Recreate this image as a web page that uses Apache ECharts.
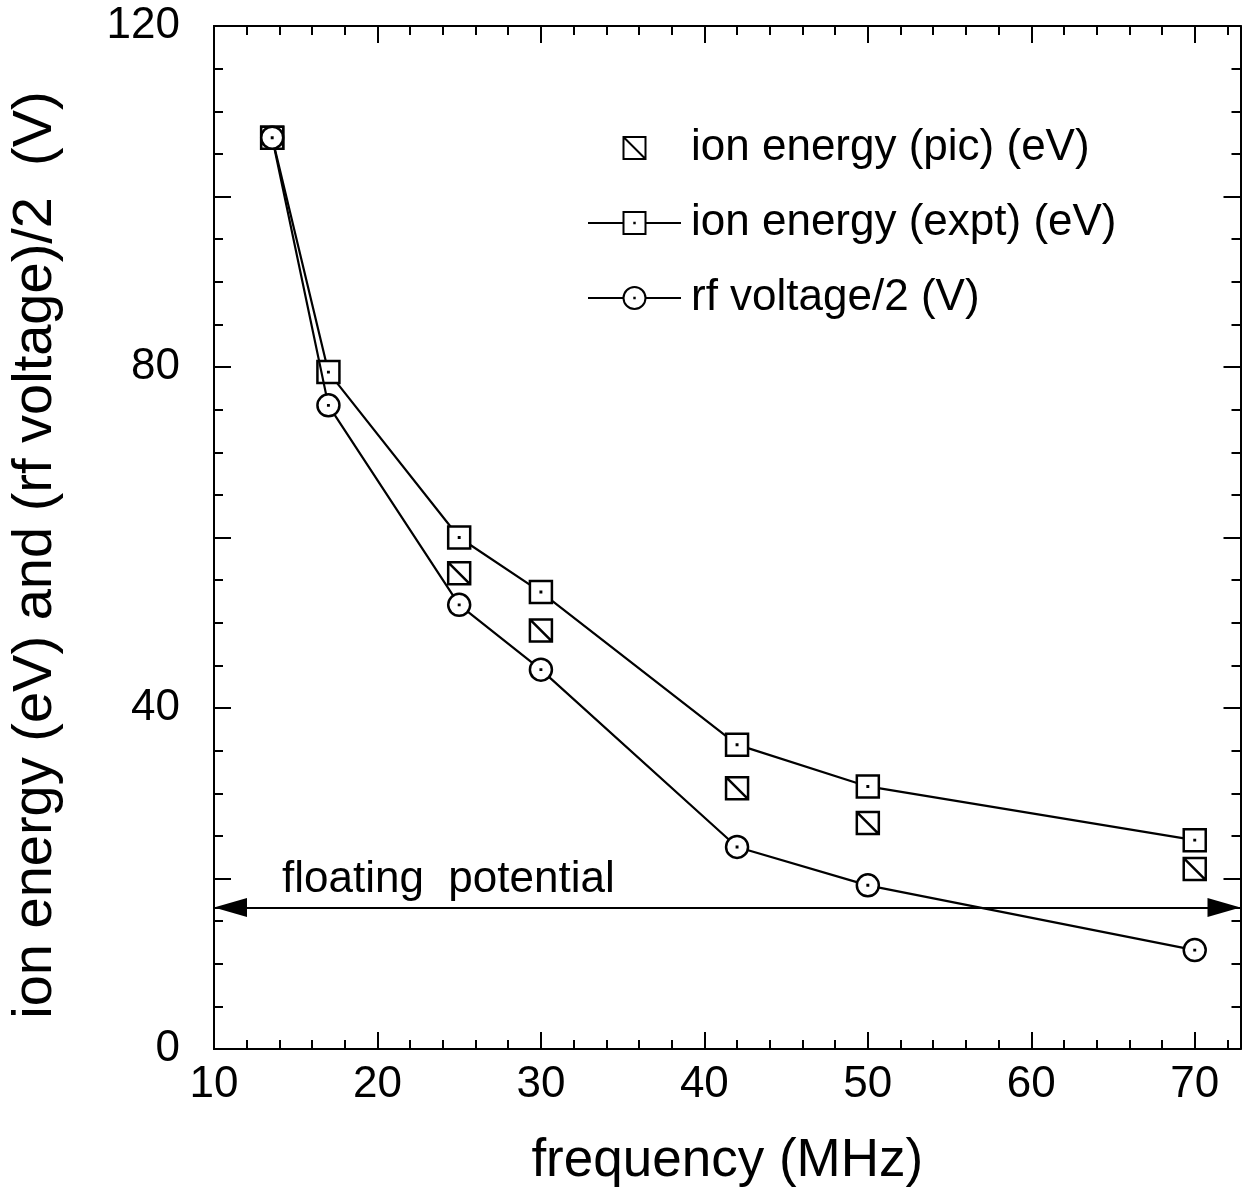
<!DOCTYPE html>
<html><head><meta charset="utf-8">
<script src="https://cdn.jsdelivr.net/npm/echarts@6/dist/echarts.min.js"></script>
<style>html,body{margin:0;padding:0;background:#fff}#c{width:1245px;height:1193px}</style>
</head><body><div id="c"></div>
<script>
// ---- data ----
const frequency      = [13.56, 17, 25, 30, 42, 50, 70];
const ionEnergyExpt  = [106.9, 79.4, 60.0, 53.6, 35.7, 30.8, 24.5];
const rfVoltageHalf  = [106.9, 75.5, 52.1, 44.5, 23.7, 19.2, 11.6];
const picFrequency   = [13.56, 25, 30, 42, 50, 70];
const ionEnergyPic   = [106.9, 55.8, 49.1, 30.6, 26.5, 21.1];
const floatingPotential = 16.6;
const floatingLabel  = 'floating  potential';
const xMajorTicks = [10, 20, 30, 40, 50, 60, 70];
const xMinorTicks = [12, 14, 16, 18, 22, 24, 26, 28, 32, 34, 36, 38, 42, 44, 46, 48, 52, 54, 56, 58, 62, 64, 66, 68, 72];
const yLabelValues = [0, 40, 80, 120];
const seriesNames = ['ion energy (pic) (eV)', 'ion energy (expt) (eV)', 'rf voltage/2 (V)'];
const xName = 'frequency (MHz)';
const yName = 'ion energy (eV) and (rf voltage)/2  (V)';
const xMin = 10, xMax = 72.8, yMin = 0, yMax = 120;

// ---- chart ----
const FONT = "'Liberation Sans', Arial, sans-serif";
const black = '#000';
const sqDot = 'path://M0 0H10V10H0Z M4.9 4.9H5.1V5.1H4.9Z';
const circDot = 'path://M10 5A5 5 0 1 1 0 5A5 5 0 1 1 10 5Z M4.9 4.9H5.1V5.1H4.9Z';
const sqDiag = 'path://M-1.25 -1.25L-1.25 -1.25 M0 0H10V10H0Z M0 0L10 10 M11.25 11.25L11.25 11.25';
const arrow = 'path://M0 -33L0 -33 M0 0L9.5 33L-9.5 33Z';
const MARK = 22;

function xAxisDef(pos, major, withLabel) {
  return {
    type: 'value', position: pos, min: xMin, max: xMax,
    axisLine: { show: true, onZero: false, lineStyle: { color: black, width: 2 } },
    axisTick: { show: true, inside: true, length: major ? 17 : 9, customValues: major ? xMajorTicks : xMinorTicks, lineStyle: { color: black, width: 2 } },
    axisLabel: withLabel ? { show: true, customValues: xMajorTicks, fontSize: 44, color: black, fontFamily: FONT, margin: 14 } : { show: false },
    splitLine: { show: false },
    name: withLabel ? xName : '',
    nameLocation: 'middle', nameGap: 86,
    nameTextStyle: { fontSize: 53, color: black, fontFamily: FONT }
  };
}
function yAxisDef(pos, withLabel) {
  return {
    type: 'value', position: pos, min: yMin, max: yMax, interval: 20,
    axisLine: { show: true, onZero: false, lineStyle: { color: black, width: 2 } },
    axisTick: { show: true, inside: true, length: 17, lineStyle: { color: black, width: 2 } },
    minorTick: { show: true, splitNumber: 4, length: 9, lineStyle: { color: black, width: 2 } },
    axisLabel: withLabel ? { show: true, fontSize: 44, color: black, fontFamily: FONT, margin: 34,
      formatter: v => yLabelValues.indexOf(v) >= 0 ? String(v) : '' } : { show: false },
    splitLine: { show: false }, minorSplitLine: { show: false },
    name: withLabel ? yName : '',
    nameLocation: 'middle', nameGap: 150, nameRotate: 90,
    nameTextStyle: { fontSize: 56, color: black, fontFamily: FONT, padding: [0, 35, 0, 0] }
  };
}

const chart = echarts.init(document.getElementById('c'), null, { renderer: 'canvas' });
chart.setOption({
  animation: false,
  backgroundColor: '#fff',
  grid: { left: 209.5, right: 4.5, top: 26, bottom: 142, containLabel: false },
  xAxis: [xAxisDef('bottom', true, true), xAxisDef('bottom', false, false), xAxisDef('top', true, false), xAxisDef('top', false, false)],
  yAxis: [yAxisDef('left', true), yAxisDef('right', false)],
  legend: {
    orient: 'vertical', left: 587, top: 126, padding: 0,
    itemWidth: 93, itemHeight: MARK / 0.8, itemGap: 31,
    data: seriesNames,
    textStyle: { fontSize: 44, color: black, fontFamily: FONT, padding: [0, 0, 0, 5] }
  },
  series: [
    {
      name: seriesNames[2], type: 'line', xAxisIndex: 0, yAxisIndex: 0,
      data: frequency.map((f, i) => [f, rfVoltageHalf[i]]),
      symbol: circDot, symbolSize: MARK, showAllSymbol: true,
      lineStyle: { color: black, width: 2.2 },
      itemStyle: { color: '#fff', borderColor: black, borderWidth: 2.5 }, z: 3
    },
    {
      name: seriesNames[1], type: 'line', xAxisIndex: 0, yAxisIndex: 0,
      data: frequency.map((f, i) => [f, ionEnergyExpt[i]]),
      symbol: sqDot, symbolSize: MARK, showAllSymbol: true,
      lineStyle: { color: black, width: 2.2 },
      itemStyle: { color: '#fff', borderColor: black, borderWidth: 2.5 }, z: 2
    },
    {
      name: seriesNames[0], type: 'scatter', xAxisIndex: 0, yAxisIndex: 0,
      data: picFrequency.map((f, i) => [f, ionEnergyPic[i]]),
      symbol: sqDiag, symbolSize: MARK * 1.25,
      itemStyle: { color: '#fff', borderColor: black, borderWidth: 2.5, opacity: 1 }, z: 1
    },
    {
      name: 'floating', type: 'line', xAxisIndex: 0, yAxisIndex: 0, data: [],
      markLine: {
        silent: true, animation: false,
        symbol: [arrow, arrow], symbolSize: [19, 66],
        lineStyle: { color: black, width: 2, type: 'solid' },
        itemStyle: { color: black },
        label: { show: true, formatter: floatingLabel, position: 'insideStartTop', distance: [68, 6],
          fontSize: 44, color: black, fontFamily: FONT },
        data: [[{ coord: [xMin, floatingPotential] }, { coord: [xMax, floatingPotential] }]]
      }
    }
  ]
});
</script>
</body></html>
